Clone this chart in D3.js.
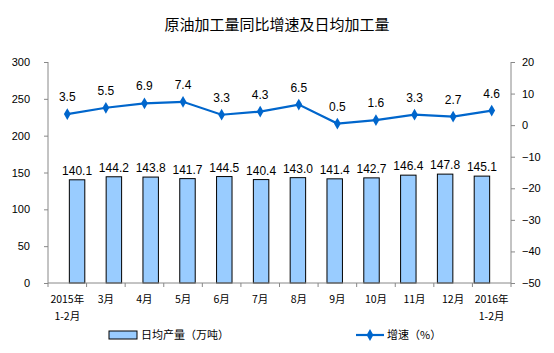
<!DOCTYPE html>
<html><head><meta charset="utf-8">
<script src="https://cdn.jsdelivr.net/npm/d3@7"></script>
<style>body{margin:0;background:#fff}</style>
</head><body><svg id="c" width="554" height="353"></svg>
<script>
const categories = [["2015年","1-2月"],["3月"],["4月"],["5月"],["6月"],["7月"],["8月"],["9月"],["10月"],["11月"],["12月"],["2016年","1-2月"]];
const output = [140.1,144.2,143.8,141.7,144.5,140.4,143.0,141.4,142.7,146.4,147.8,145.1];
const growth = [3.5,5.5,6.9,7.4,3.3,4.3,6.5,0.5,1.6,3.3,2.7,4.6];
const leftTicks = [0,50,100,150,200,250,300];
const rightTicks = [-50,-40,-30,-20,-10,0,10,20];

const svg = d3.select("#c");
const num = "'Liberation Sans', Arial, sans-serif";
const cjk = "'Noto Sans CJK SC', sans-serif";
const L=48, R=511, T=62, B=283;
const x = d3.scaleBand().domain(d3.range(categories.length)).range([L,R]).padding(0.58);
const xb = d3.scaleBand().domain(d3.range(categories.length)).range([L,R]);
const yL = d3.scaleLinear().domain([0,300]).range([B,T]);
const yR = d3.scaleLinear().domain([-50,20]).range([B,T]);

svg.append("text").attr("x",277).attr("y",30).attr("text-anchor","middle")
  .attr("font-family",cjk).attr("font-size",15).attr("fill","#000").text("原油加工量同比增速及日均加工量");

// left axis
const gl = svg.append("g").attr("transform",`translate(${L},0)`)
  .call(d3.axisLeft(yL).tickValues(leftTicks).tickSize(4).tickPadding(14));
gl.select(".domain").attr("stroke","#888").attr("d",`M0,${T}V${B}`);
gl.selectAll(".tick line").attr("stroke","#888");
gl.selectAll("text").attr("font-family",num).attr("font-size",11).attr("fill","#000");

const gr = svg.append("g").attr("transform",`translate(${R},0)`)
  .call(d3.axisRight(yR).tickValues(rightTicks).tickSize(4).tickPadding(7));
gr.select(".domain").attr("stroke","#888").attr("d",`M0,${T}V${B}`);
gr.selectAll(".tick line").attr("stroke","#888");
gr.selectAll("text").attr("font-family",num).attr("font-size",11).attr("fill","#000");

// bars
svg.selectAll("rect.bar").data(output).join("rect").attr("class","bar")
  .attr("x",(d,i)=>x(i)).attr("width",x.bandwidth())
  .attr("y",d=>yL(d)).attr("height",d=>B-yL(d))
  .attr("fill","#99CCFF").attr("stroke","#000").attr("stroke-width",1);

// bottom axis
svg.append("line").attr("x1",L).attr("x2",R).attr("y1",B).attr("y2",B).attr("stroke","#888");
svg.selectAll("line.xt").data(d3.range(categories.length+1)).join("line").attr("class","xt")
  .attr("x1",i=>L+i*xb.step()).attr("x2",i=>L+i*xb.step()).attr("y1",B).attr("y2",B+4).attr("stroke","#888");
categories.forEach((c,i)=>{
  c.forEach((t,j)=>{
    svg.append("text").attr("x",xb(i)+xb.bandwidth()/2).attr("y",303+j*17).attr("text-anchor","middle")
      .attr("font-family",cjk).attr("font-size",10.5).attr("fill","#000").text(t);
  });
});

// bar labels
svg.selectAll("text.bl").data(output).join("text").attr("class","bl")
  .attr("x",(d,i)=>x(i)+x.bandwidth()/2).attr("y",d=>yL(d)-5).attr("text-anchor","middle")
  .attr("font-family",num).attr("font-size",12).attr("fill","#000").text(d=>d.toFixed(1));

// line
const line = d3.line().x((d,i)=>xb(i)+xb.bandwidth()/2).y(d=>yR(d));
svg.append("path").datum(growth).attr("d",line).attr("fill","none").attr("stroke","#0066CC").attr("stroke-width",2.2);
const diamond = d3.symbol().type(d3.symbolDiamond).size(40);
svg.selectAll("path.pt").data(growth).join("path").attr("class","pt")
  .attr("transform",(d,i)=>`translate(${xb(i)+xb.bandwidth()/2},${yR(d)})`).attr("d",diamond).attr("fill","#0066CC");
svg.selectAll("text.gl").data(growth).join("text").attr("class","gl")
  .attr("x",(d,i)=>xb(i)+xb.bandwidth()/2).attr("y",d=>yR(d)-13).attr("text-anchor","middle")
  .attr("font-family",num).attr("font-size",12).attr("fill","#000").text(d=>d.toFixed(1));

// legend
svg.append("rect").attr("x",109).attr("y",331).attr("width",28).attr("height",8).attr("fill","#99CCFF").attr("stroke","#000");
svg.append("text").attr("x",141).attr("y",339).attr("font-family",cjk).attr("font-size",11).attr("fill","#000").text("日均产量（万吨）");
svg.append("line").attr("x1",356).attr("x2",384).attr("y1",335).attr("y2",335).attr("stroke","#0066CC").attr("stroke-width",2.2);
svg.append("path").attr("transform","translate(370,335)").attr("d",diamond).attr("fill","#0066CC");
svg.append("text").attr("x",387).attr("y",339).attr("font-family",cjk).attr("font-size",11).attr("fill","#000").text("增速（%）");
</script></body></html>
